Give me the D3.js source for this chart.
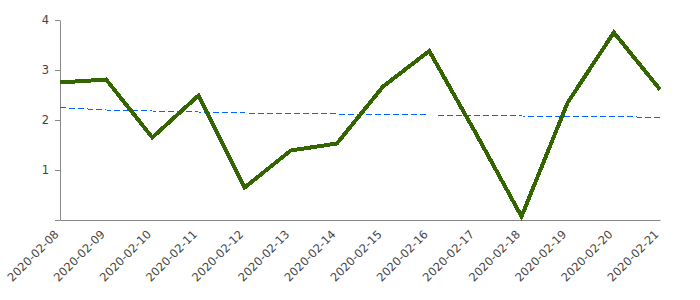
<!DOCTYPE html>
<html>
<head>
<meta charset="utf-8">
<script src="https://cdn.jsdelivr.net/npm/d3@7"></script>
<style>
  body { margin: 0; background: #fff; }
  .eje text { font-family: 'DejaVu Sans', sans-serif; font-size: 11.5px; fill: #444; }
  .eje path, .eje line { stroke: #888; }
</style>
</head>
<body>
<div id="graf"></div>
<script>
// datos
fechas = ['2020-02-08', '2020-02-09', '2020-02-10', '2020-02-11', '2020-02-12', '2020-02-13', '2020-02-14',
          '2020-02-15', '2020-02-16', '2020-02-17', '2020-02-18', '2020-02-19', '2020-02-20', '2020-02-21']
valores = [2.75, 2.81, 1.65, 2.49, 0.65, 1.39, 1.53, 2.67, 3.38, 1.75, 0.07, 2.35, 3.75, 2.61]
tendencia = [2.25, 2.20, 2.18, 2.16, 2.14, 2.13, 2.12, 2.11, 2.10, 2.10, 2.08, 2.07, 2.07, 2.05]
yTicks = [0, 1, 2, 3, 4]

// configuración
ancho_total = 700
alto_total = 300
margins = { top: 20, left: 60, right: 40, bottom: 80 }
ancho = ancho_total - margins.left - margins.right
alto = alto_total - margins.top - margins.bottom

svg = d3.select('#graf').append('svg')
        .attr('width', ancho_total)
        .attr('height', alto_total)

g = svg.append('g')
       .attr('transform', `translate(${ margins.left }, ${ margins.top })`)

x = d3.scalePoint()
      .domain(fechas)
      .range([0, ancho])

y = d3.scaleLinear()
      .domain([0, 4])
      .range([alto, 0])

// ejes
xAxisGroup = g.append('g')
              .attr('class', 'eje')
              .attr('transform', `translate(0, ${ alto })`)
              .call(d3.axisBottom(x).tickSize(0).tickSizeOuter(0))
xAxisGroup.selectAll('text')
          .attr('text-anchor', 'end')
          .attr('dy', 0)
          .attr('y', 0)
          .attr('transform', 'translate(-1, 15) rotate(-45)')

yAxisGroup = g.append('g')
              .attr('class', 'eje')
              .call(d3.axisLeft(y).tickValues(yTicks).tickSize(5).tickSizeOuter(0).tickPadding(6)
                      .tickFormat(d => d === 0 ? '' : d))

// líneas
linea = d3.line()
          .x((d, i) => x(fechas[i]))
          .y(d => y(d))

g.append('path')
 .datum(tendencia)
 .attr('d', linea)
 .attr('fill', 'none')
 .attr('stroke', '#0066ff')
 .attr('stroke-width', 1)
 .attr('stroke-dasharray', '6,3')
 .attr('shape-rendering', 'crispEdges')

g.append('path')
 .datum(valores)
 .attr('d', linea)
 .attr('fill', 'none')
 .attr('stroke', '#336600')
 .attr('stroke-width', 4)
 .attr('shape-rendering', 'crispEdges')
</script>
</body>
</html>
